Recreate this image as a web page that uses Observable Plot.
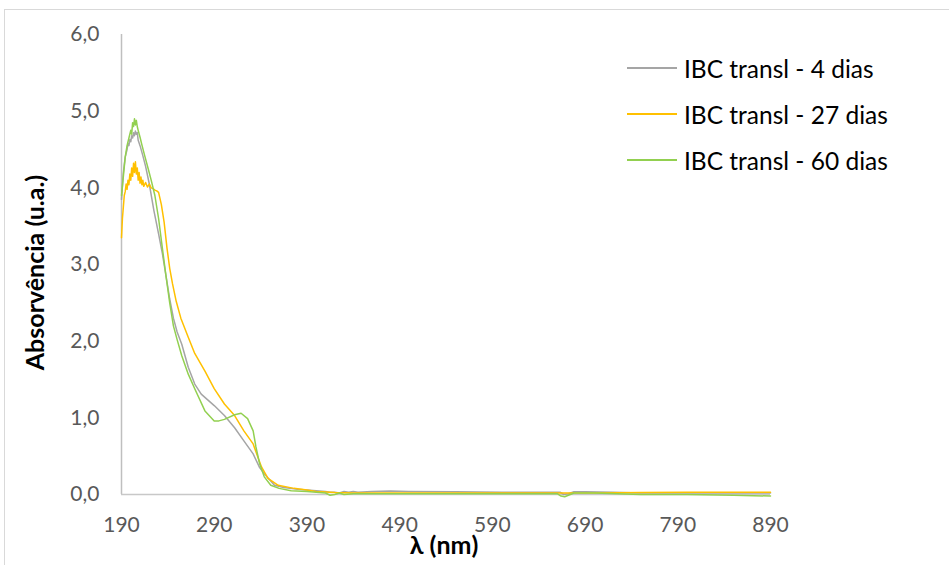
<!DOCTYPE html>
<html>
<head>
<meta charset="utf-8">
<script src="https://cdn.jsdelivr.net/npm/d3@7"></script>
<script src="https://cdn.jsdelivr.net/npm/@observablehq/plot@0.6"></script>
<style>
  html, body { margin: 0; padding: 0; background: #fff; }
  #wrap { position: relative; width: 949px; height: 565px; overflow: hidden; }
  #border { position: absolute; left: 4px; top: 9px; width: 980px; height: 600px; border: 1px solid #d9d9d9; pointer-events: none; }
  #legend { position: absolute; left: 627px; top: 45px; font-family: Lato, "Open Sans", sans-serif; font-size: 24.5px; color: #000; }
  .row { display: flex; align-items: center; height: 46px; }
  .sw { width: 50px; height: 2px; margin-right: 7px; }
</style>
</head>
<body>
<div id="wrap"><div id="border"></div><div id="chart"></div><div id="legend"></div></div>
<script>
const seriesNames = ["IBC transl - 4 dias", "IBC transl - 27 dias", "IBC transl - 60 dias"];
const seriesColors = ["#a5a5a5", "#ffc000", "#92d050"];
const xTicks = [190, 290, 390, 490, 590, 690, 790, 890];
const yTicks = [0, 1, 2, 3, 4, 5, 6];

// IBC transl - 4 dias
const wl4 = [190,192,194,196,197,198,199,200,201,202,203,204,205,206,207,208,210,213,216,220,225,230,234,238,242,246,250,255,262,269,276,290,301,312,322,332,339,344,355,365,380,390,400,410,415,420,425,430,435,440,445,460,480,500,550,600,650,663,667,672,678,690,720,750,800,850,890];
const abs4 = [3.85,4.2,4.4,4.5,4.58,4.55,4.63,4.6,4.68,4.65,4.72,4.68,4.74,4.7,4.72,4.62,4.55,4.42,4.28,4.05,3.7,3.4,3.15,2.85,2.55,2.3,2.12,1.96,1.66,1.44,1.31,1.16,1.03,0.87,0.70,0.53,0.35,0.27,0.12,0.09,0.07,0.06,0.05,0.04,0.03,0.03,0.02,0.04,0.03,0.04,0.03,0.04,0.045,0.04,0.035,0.03,0.03,0.03,0.00,0.01,0.035,0.035,0.03,0.02,0.02,0.02,0.02];

// IBC transl - 27 dias
const wl27 = [190,191,192,193,194,195,196,197,198,199,200,201,202,203,204,205,206,207,208,209,210,211,212,213,214,216,218,220,222,224,226,228,230,233,236,239,242,245,249,254,262,269,280,290,301,312,322,332,337,341,348,359,376,390,400,420,440,480,550,650,700,750,800,850,890];
const abs27 = [3.35,3.6,3.75,3.9,3.95,4.05,3.98,4.1,4.04,4.18,4.1,4.26,4.15,4.32,4.2,4.34,4.18,4.26,4.1,4.2,4.06,4.14,4.04,4.1,4.02,4.07,4.01,4.05,4.0,3.99,3.97,3.96,3.94,3.78,3.55,3.22,2.95,2.75,2.52,2.30,2.05,1.84,1.61,1.38,1.18,1.03,0.83,0.66,0.49,0.36,0.21,0.12,0.08,0.06,0.04,0.025,0.02,0.02,0.02,0.02,0.02,0.025,0.03,0.03,0.03];

// IBC transl - 60 dias
const wl60 = [190,192,194,196,198,200,201,202,203,204,205,206,207,208,210,212,215,219,222,226,230,234,238,242,246,250,255,262,269,280,290,295,301,312,319,326,332,335,339,344,351,360,373,390,400,410,415,420,425,430,440,460,500,600,660,664,668,672,678,700,750,800,850,890];
const abs60 = [3.9,4.15,4.4,4.55,4.65,4.75,4.7,4.85,4.8,4.9,4.82,4.88,4.8,4.75,4.66,4.56,4.42,4.24,4.1,3.9,3.6,3.22,2.85,2.5,2.2,2.02,1.81,1.57,1.38,1.09,0.96,0.96,0.98,1.04,1.06,0.99,0.83,0.62,0.40,0.23,0.12,0.08,0.05,0.04,0.03,0.02,-0.01,0.0,0.02,0.0,0.01,0.01,0.01,0.01,0.01,-0.02,-0.03,-0.01,0.02,0.02,0.0,0.0,-0.01,-0.02];

const table = [];
[[wl4, abs4], [wl27, abs27], [wl60, abs60]].forEach(([w, a], i) => {
  w.forEach((x, j) => table.push({serie: seriesNames[i], wl: x, abs: a[j]}));
});

const fmt = d => d.toFixed(1).replace(".", ",");

const chart = Plot.plot({
  width: 949,
  height: 565,
  marginLeft: 121,
  marginRight: 179,
  marginTop: 34,
  marginBottom: 71,
  style: { fontFamily: "Lato, 'Open Sans', sans-serif", background: "transparent" },
  x: { domain: [190, 890] },
  y: { domain: [0, 6] },
  color: { domain: seriesNames, range: seriesColors },
  marks: [
    Plot.axisX({ ticks: xTicks, tickSize: 0, tickPadding: 23, fontSize: 21, fill: "#595959", label: null }),
    Plot.axisY({ ticks: yTicks, tickSize: 0, tickPadding: 22, fontSize: 21, fill: "#595959", tickFormat: fmt, label: null }),
    Plot.ruleX([190], { stroke: "#bfbfbf", strokeWidth: 1.5 }),
    Plot.ruleY([0], { stroke: "#c8c8c8", strokeWidth: 1.5 }),
    Plot.line(table, { x: "wl", y: "abs", z: "serie", stroke: "serie", strokeWidth: 1.5 }),
    Plot.text(["Absorvência (u.a.)"], { frameAnchor: "left", textAnchor: "middle", dx: -86, dy: 8, rotate: -90, fontSize: 25, fontWeight: "bold", fill: "#000" }),
    Plot.text(["λ (nm)"], { frameAnchor: "bottom", textAnchor: "middle", dx: -2, dy: 59, fontSize: 25, fontWeight: "bold", fill: "#000" })
  ]
});
document.getElementById("chart").appendChild(chart);

const legend = document.getElementById("legend");
seriesNames.forEach((n, i) => {
  const row = document.createElement("div");
  row.className = "row";
  const sw = document.createElement("div");
  sw.className = "sw";
  sw.style.background = seriesColors[i];
  const t = document.createElement("span");
  t.textContent = n;
  row.appendChild(sw);
  row.appendChild(t);
  legend.appendChild(row);
});
</script>
</body>
</html>
